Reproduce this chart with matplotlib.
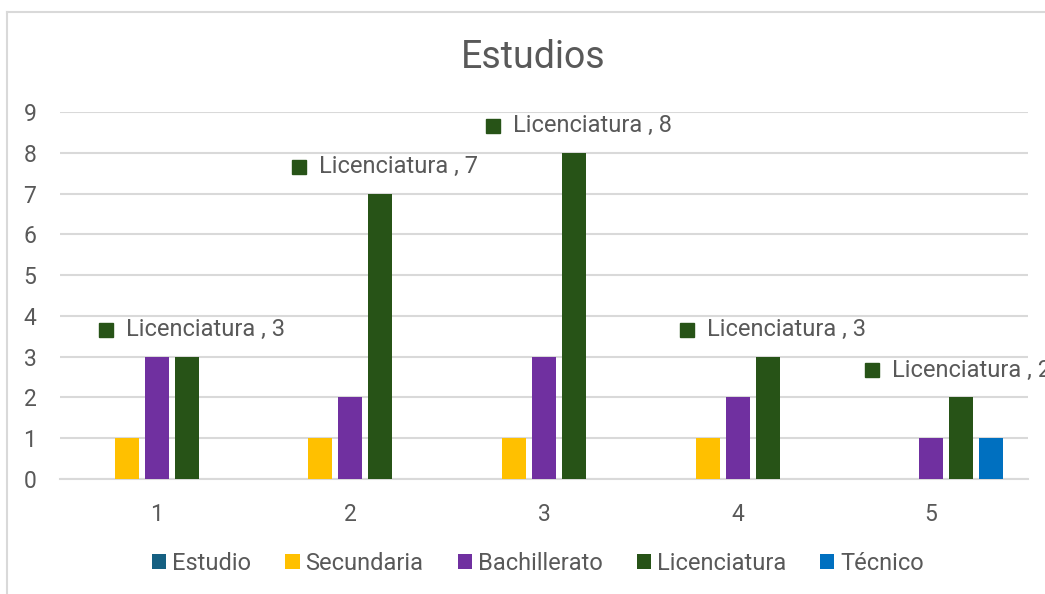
import matplotlib
matplotlib.use("Agg")
import matplotlib.pyplot as plt
import numpy as np
from matplotlib.lines import Line2D
from matplotlib.transforms import offset_copy

categories = ["1", "2", "3", "4", "5"]
series_names = ["Estudio", "Secundaria", "Bachillerato", "Licenciatura", "Técnico"]
estudio = [0, 0, 0, 0, 0]
secundaria = [1, 1, 1, 1, 0]
bachillerato = [3, 2, 3, 2, 1]
licenciatura = [3, 7, 8, 3, 2]
tecnico = [0, 0, 0, 0, 1]
colors = ["#156082", "#FFC000", "#7030A0", "#275317", "#0070C0"]
yticks = list(range(0, 10))

plt.rcParams['font.family'] = ['Roboto', 'DejaVu Sans']
W, H = 1045, 594
fig = plt.figure(figsize=(W / 100, H / 100), dpi=100)
ax = fig.add_axes([60 / W, 1 - 479 / H, (1028 - 60) / W, (479 - 112) / H])

gray_text = "#595959"
grid_c = "#D9D9D9"
x = np.arange(1, len(categories) + 1)
step = 30 / 193.5
width = 24 / 193.5
all_series = [estudio, secundaria, bachillerato, licenciatura, tecnico]
for j, (name, vals, c) in enumerate(zip(series_names, all_series, colors)):
    ax.bar(x + (j - 2) * step, vals, width=width, color=c, label=name, zorder=3)

# data labels for Licenciatura (last one nudged left, as in the reference)
for i, (xi, v) in enumerate(zip(x, licenciatura)):
    bx = xi + 1 * step
    dx = -8 if i == len(x) - 1 else 0
    mk_tr = offset_copy(ax.transData, fig=fig, x=-81 + dx, y=27, units='dots')
    ax.plot([bx], [v], marker='s', ms=10, color=colors[3], linestyle='none',
            transform=mk_tr, clip_on=False, zorder=5)
    ax.annotate(f"Licenciatura , {v}", xy=(bx, v), xytext=(-61 + dx, 27),
                textcoords="offset pixels", ha="left", va="center",
                color=gray_text, fontsize=17, annotation_clip=False, zorder=5)

ax.set_xlim(0.5, 5.5)
ax.set_ylim(0, 9)
ax.set_yticks(yticks)
ax.set_xticks(x)
ax.set_xticklabels(categories)
ax.yaxis.grid(True, color=grid_c, linewidth=1.5, zorder=0)
ax.set_axisbelow(True)
for s in ["top", "right", "left"]:
    ax.spines[s].set_visible(False)
ax.spines["bottom"].set_color(grid_c)
ax.spines["bottom"].set_linewidth(1.5)
ax.tick_params(axis="both", length=0, colors=gray_text, labelsize=16.5)
ax.tick_params(axis="y", pad=17)
ax.tick_params(axis="x", pad=17)

fig.text(533 / W, 1 - 57 / H, "Estudios", ha="center", va="center",
         fontsize=27, color=gray_text)

leg = fig.legend(loc="center", bbox_to_anchor=(538 / W, 1 - 563 / H), ncol=5,
                 frameon=False, fontsize=17, handlelength=0.6, handleheight=0.6,
                 handletextpad=0.25, columnspacing=1.45)
for t in leg.get_texts():
    t.set_color(gray_text)

# chart border (partially outside image)
fig.add_artist(Line2D([7 / W, 7 / W], [0, 1 - 12 / H], color=grid_c, linewidth=1.5))
fig.add_artist(Line2D([7 / W, 1], [1 - 12 / H, 1 - 12 / H], color=grid_c, linewidth=1.5))

fig.savefig("out.png", dpi=100)
